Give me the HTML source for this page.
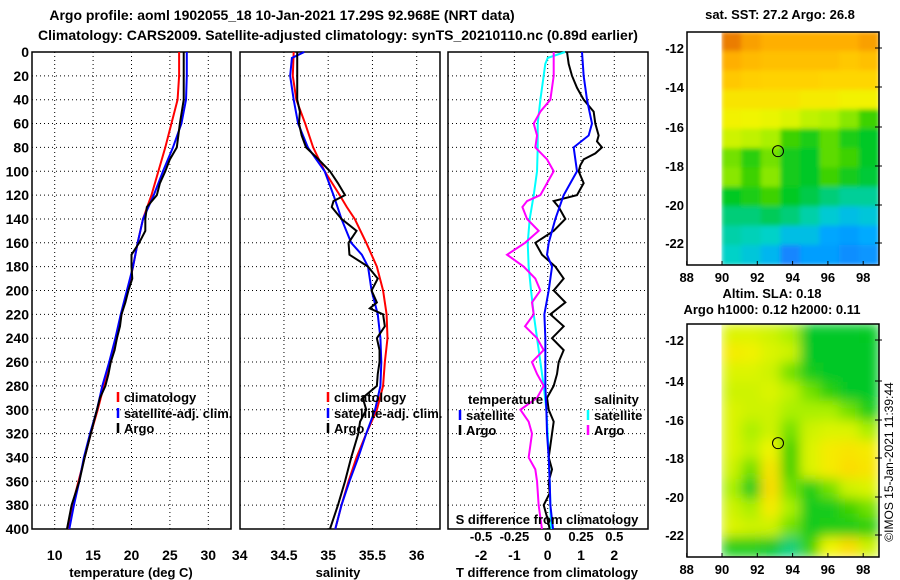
<!DOCTYPE html>
<html><head><meta charset="utf-8"><style>
body{margin:0;background:#fff;}
svg{display:block;font-family:"Liberation Sans",sans-serif;font-weight:bold;}
</style></head><body>
<svg id="fig" width="900" height="580" viewBox="0 0 900 580" xmlns="http://www.w3.org/2000/svg">
<text x="282" y="20" font-size="14" text-anchor="middle">Argo profile: aoml 1902055_18 10-Jan-2021 17.29S 92.968E (NRT data)</text>
<text x="338" y="40" font-size="14" text-anchor="middle">Climatology: CARS2009. Satellite-adjusted climatology: synTS_20210110.nc (0.89d earlier)</text>
<g id="g"></g>
</svg>
<script>
// ---- data ----
const depthT = [0,20,40,60,80,100,120,140,160,180,200,220,240,260,280,300,320,340,360,380,400];
const tempClim = [26.2,26.2,26.0,25.2,24.4,23.5,22.6,21.5,20.8,20.2,19.5,18.7,18.1,17.3,16.4,15.6,14.7,13.9,13.1,12.3,11.8];
const tempSat = [27.2,27.2,27.1,26.5,25.4,24.1,22.9,21.5,20.8,20.2,19.4,18.6,17.9,17.1,16.2,15.5,14.6,13.8,13.2,12.5,11.9];
const depthArgoT = [0,20,40,60,70,80,90,100,110,120,130,140,150,160,170,180,190,200,210,220,230,240,250,260,270,280,290,300,320,340,360,380,400];
const tempArgo = [26.8,26.8,26.8,26.3,26.1,25.9,25.0,24.4,23.7,23.3,22.0,21.8,21.8,21.0,20.0,20.0,20.1,19.6,19.2,18.7,18.5,18.1,17.8,17.3,17.0,16.6,15.9,15.5,14.7,13.9,13.2,12.2,11.6];
const depthS = [0,20,40,60,80,100,120,130,140,160,180,200,220,240,260,280,300,320,340,360,380,400];
const salClim = [34.61,34.60,34.64,34.74,34.83,34.96,35.13,35.21,35.30,35.43,35.55,35.62,35.66,35.67,35.64,35.62,35.55,35.43,35.32,35.23,35.15,35.08];
const depthSatS = [0,5,20,40,60,80,100,120,140,160,170,180,200,220,240,260,280,300,320,340,360,380,400];
const salSat = [34.73,34.59,34.57,34.61,34.66,34.77,34.96,35.06,35.15,35.26,35.38,35.45,35.49,35.56,35.59,35.60,35.59,35.53,35.43,35.34,35.24,35.15,35.08];
const depthArgoS = [0,20,40,50,60,70,80,90,100,110,120,125,130,140,150,160,170,180,190,200,210,215,220,230,240,250,260,270,280,290,300,310,320,340,360,380,400];
const salArgo = [34.65,34.65,34.65,34.68,34.67,34.70,34.75,34.89,35.02,35.11,35.19,35.06,35.04,35.15,35.32,35.23,35.24,35.45,35.56,35.49,35.55,35.47,35.62,35.64,35.55,35.58,35.58,35.56,35.55,35.39,35.43,35.36,35.34,35.26,35.19,35.11,35.02];
const depthDT = [0,20,40,60,70,80,100,120,140,160,170,180,200,220,240,260,280,300,320,340,360,380,400];
const dTsat = [1.03,1.08,1.18,1.33,1.23,0.78,0.88,0.48,0.23,0.03,-0.02,0.13,0.03,-0.10,-0.07,-0.07,-0.07,-0.04,-0.02,0.03,0.06,0.08,0.16];
const depthDTA = [0,10,20,30,40,50,60,70,75,80,85,90,95,100,110,120,125,130,140,150,160,170,180,190,200,210,220,230,240,250,260,270,280,290,300,310,320,340,350,360,370,380,390,400];
const dTargo = [0.58,0.63,0.73,0.88,1.08,1.38,1.43,1.53,1.48,1.63,1.43,1.08,0.98,0.93,1.08,0.88,0.18,0.33,0.53,0.18,-0.37,-0.17,0.23,0.48,0.18,0.53,0.08,0.48,0.13,0.48,0.33,0.28,0.18,-0.02,0.03,0.18,0.13,0.03,0.13,0.03,0.06,-0.12,-0.02,0.06];
const depthDS = [0,5,10,40,60,80,100,120,140,160,180,200,220,240,260,280,300,320,340,360,380,400];
const dSsat = [0.13,0,-0.018,-0.055,-0.075,-0.075,-0.08,-0.105,-0.135,-0.15,-0.143,-0.125,-0.105,-0.08,-0.055,-0.03,-0.01,0,0.008,0.015,0.02,0.025];
const depthDSA = [0,20,40,50,60,70,80,90,100,110,120,125,130,140,150,160,170,180,190,200,210,220,230,240,250,260,270,280,290,300,310,320,340,350,360,380,400];
const dSargo = [0.045,0.045,0.02,-0.055,-0.105,-0.08,-0.093,-0.005,0.045,-0.005,-0.055,-0.155,-0.19,-0.155,-0.068,-0.17,-0.305,-0.18,-0.093,-0.055,-0.118,-0.105,-0.17,-0.08,-0.03,-0.118,-0.08,-0.03,-0.08,-0.205,-0.143,-0.118,-0.143,-0.093,-0.08,-0.068,-0.043];
const depthTicks = [0,20,40,60,80,100,120,140,160,180,200,220,240,260,280,300,320,340,360,380,400];
const tTicks = [10,15,20,25,30];
const sTicks = [34,34.5,35,35.5,36];
const sTickLabels = ['34','34.5','35','35.5','36'];
const dTTicks = [-2,-1,0,1,2];
const dSTicks = [-0.5,-0.25,0,0.25,0.5];
const sstGrid = [
[0.95,0.88,0.85,0.85,0.85,0.85,0.85,0.88],
[0.85,0.82,0.8,0.8,0.8,0.8,0.78,0.8],
[0.78,0.76,0.75,0.75,0.75,0.74,0.74,0.74],
[0.7,0.7,0.7,0.7,0.68,0.68,0.66,0.66],
[0.66,0.65,0.64,0.62,0.58,0.56,0.52,0.45],
[0.6,0.58,0.55,0.45,0.4,0.48,0.4,0.35],
[0.5,0.42,0.5,0.38,0.35,0.48,0.45,0.35],
[0.52,0.45,0.52,0.38,0.35,0.45,0.38,0.34],
[0.36,0.4,0.45,0.36,0.33,0.3,0.28,0.28],
[0.3,0.3,0.32,0.3,0.27,0.23,0.2,0.22],
[0.27,0.26,0.25,0.2,0.2,0.14,0.12,0.15],
[0.25,0.22,0.18,0.06,0.12,0.12,0.08,0.1]];
const slaGrid = [
[0.62,0.62,0.6,0.55,0.35,0.35,0.35,0.36],
[0.68,0.66,0.62,0.6,0.35,0.35,0.35,0.35],
[0.62,0.62,0.6,0.5,0.38,0.35,0.35,0.35],
[0.6,0.6,0.62,0.58,0.5,0.42,0.35,0.35],
[0.62,0.6,0.6,0.55,0.55,0.55,0.5,0.4],
[0.62,0.55,0.6,0.5,0.6,0.62,0.62,0.55],
[0.62,0.58,0.65,0.45,0.62,0.68,0.7,0.68],
[0.6,0.5,0.7,0.45,0.62,0.68,0.72,0.7],
[0.55,0.38,0.72,0.5,0.4,0.5,0.6,0.62],
[0.6,0.55,0.68,0.55,0.38,0.38,0.45,0.5],
[0.62,0.6,0.6,0.5,0.38,0.4,0.4,0.42],
[0.4,0.4,0.35,0.3,0.45,0.65,0.72,0.6]];
const lonTicks = [88,90,92,94,96,98];
const latTicks = [-12,-14,-16,-18,-20,-22];

// ---- helpers ----
const NS='http://www.w3.org/2000/svg';
const G=document.getElementById('g');
function mk(tag,attrs,parent){const e=document.createElementNS(NS,tag);for(const k in attrs)e.setAttribute(k,attrs[k]);(parent||G).appendChild(e);return e;}
const Y0=52,Y1=529;
const yD=d=>Y0+d*(Y1-Y0)/400;
const xT=t=>54.7+(t-10)*7.68;
const xS=s=>239.7+(s-34)*88.5;
const xDT=t=>547.7+t*33.3;
const xDS=s=>547.7+s*133.2;

function panel(name,x0,x1,xt,ticks,labels){
  const g=mk('g',{});
  
  
  depthTicks.forEach(d=>{const l=mk('line',{x1:x0,x2:x1,y1:yD(d),y2:yD(d),stroke:'#000','stroke-width':1,'stroke-dasharray':'1,3'},g);});
  ticks.forEach((t,i)=>{const x=xt(t);if(x>x0+1&&x<x1-1){const l=mk('line',{x1:x,x2:x,y1:Y0,y2:Y1,stroke:'#000','stroke-width':1,'stroke-dasharray':'1,3'},g);}
    if(labels){const tx=mk('text',{x:x,y:560,'font-size':14,'text-anchor':'middle'},g);tx.textContent=labels[i];}});
  const r=mk('rect',{x:x0,y:Y0,width:x1-x0,height:Y1-Y0,fill:'none',stroke:'#000','stroke-width':1.5},g);
  
}
function line(xs,ds,xf,color,name){
  const p=mk('polyline',{points:xs.map((v,i)=>xf(v)+','+yD(ds[i])).join(' '),fill:'none',stroke:color,'stroke-width':2});
  
}
function txt(x,y,s,name,opt){const t=mk('text',Object.assign({x:x,y:y,'font-size':13},opt||{}));t.textContent=s;return t;}
function legMark(x,y,c){const l=mk('line',{x1:x,x2:x,y1:y-10,y2:y,stroke:c,'stroke-width':2.5});}

panel('temperature-panel',32,231,xT,tTicks,tTicks.map(String));
panel('salinity-panel',240,440,xS,sTicks,sTickLabels);
panel('difference-panel',448,648,xDT,dTTicks,dTTicks.map(String));
depthTicks.forEach(d=>txt(29,yD(d)+5,String(d),'y-tick-label',{'text-anchor':'end','font-size':14}));

line(tempClim,depthT,xT,'#f00','temp-climatology-line');
line(tempSat,depthT,xT,'#00f','temp-satellite-line');
line(tempArgo,depthArgoT,xT,'#000','temp-argo-line');
line(salClim,depthS,xS,'#f00','sal-climatology-line');
line(salSat,depthSatS,xS,'#00f','sal-satellite-line');
line(salArgo,depthArgoS,xS,'#000','sal-argo-line');
line(dSsat,depthDS,xDS,'#0ff','dsal-satellite-line');
line(dSargo,depthDSA,xDS,'#f0f','dsal-argo-line');
line(dTargo,depthDTA,xDT,'#000','dtemp-argo-line');
line(dTsat,depthDT,xDT,'#00f','dtemp-satellite-line');

txt(131,577,'temperature (deg C)','x-axis-title-temperature',{'text-anchor':'middle'});
txt(338,577,'salinity','x-axis-title-salinity',{'text-anchor':'middle'});
txt(547,577,'T difference from climatology','x-axis-title-t-diff',{'text-anchor':'middle'});
txt(547,524,'S difference from climatology','s-diff-title',{'text-anchor':'middle'});
dSTicks.forEach(s=>txt(xDS(s),541,String(s),'s-diff-tick-label',{'text-anchor':'middle'}));

[[118,'#f00','climatology',402],[118,'#00f','satellite-adj. clim.',418],[118,'#000','Argo',433]].forEach(a=>{legMark(a[0],a[3],a[1]);txt(a[0]+6,a[3],a[2],'legend-entry');});
[[328,'#f00','climatology',402],[328,'#00f','satellite-adj. clim.',418],[328,'#000','Argo',433]].forEach(a=>{legMark(a[0],a[3],a[1]);txt(a[0]+6,a[3],a[2],'legend-entry');});
txt(468,404,'temperature','legend-title-temperature');
txt(594,404,'salinity','legend-title-salinity');
[[460,'#00f','satellite',420],[460,'#000','Argo',435],[588,'#0ff','satellite',420],[588,'#f0f','Argo',435]].forEach(a=>{legMark(a[0],a[3],a[1]);txt(a[0]+6,a[3],a[2],'legend-entry');});

// ---- maps ----
const cstops=[[0,[30,110,255]],[0.15,[0,170,255]],[0.25,[0,210,200]],[0.35,[0,200,40]],[0.45,[60,210,0]],[0.55,[170,240,0]],[0.65,[240,245,0]],[0.75,[255,210,0]],[0.85,[255,175,0]],[1,[225,100,0]]];
function cmap(v){for(let i=1;i<cstops.length;i++){if(v<=cstops[i][0]){const a=cstops[i-1],b=cstops[i],f=(v-a[0])/(b[0]-a[0]);return 'rgb('+a[1].map((c,k)=>Math.round(c+(b[1][k]-c)*f)).join(',')+')';}}return 'rgb(225,100,0)';}
const xLon=lon=>722+(lon-90)*17.65;
const defs=mk('defs',{});
const fl=mk('filter',{id:'bl',x:'0',y:'0',width:'1',height:'1'},defs);mk('feGaussianBlur',{stdDeviation:6,edgeMode:'duplicate'},fl);
const fl2=mk('filter',{id:'bl2',x:'0',y:'0',width:'1',height:'1'},defs);mk('feGaussianBlur',{stdDeviation:2.5,edgeMode:'duplicate'},fl2);
function map(name,y0,y1,grid,latY,blur){
  const g=mk('g',{});
  const x0=722,x1=879,rows=grid.length,cols=grid[0].length,cw=(x1-x0)/cols,ch=(y1-y0)/rows;
  const cg=mk('g',{filter:blur?'url(#bl)':'url(#bl2)'},g);
  grid.forEach((row,r)=>row.forEach((v,c)=>{const re=mk('rect',{x:x0+c*cw-0.5,y:y0+r*ch-0.5,width:cw+1,height:ch+1,fill:cmap(v)},cg);}));
  const f=mk('rect',{x:687,y:y0,width:192,height:y1-y0,fill:'none',stroke:'#000','stroke-width':1.5},g);
  lonTicks.forEach(l=>{const t=txt(xLon(l),y1+17,String(l),'lon-tick-label',{'text-anchor':'middle'});g.appendChild(t);mk('line',{x1:xLon(l),x2:xLon(l),y1:y1,y2:y1-4,stroke:'#000'},g);});
  latTicks.forEach((l,i)=>{const t=txt(684,latY[i]+5,String(l),'lat-tick-label',{'text-anchor':'end'});g.appendChild(t);mk('line',{x1:875,x2:882,y1:latY[i],y2:latY[i],stroke:'#000'},g);});
  const cc=mk('circle',{cx:778,cy:latY[0]+(17.29-12)/2*(latY[5]-latY[0])/5,r:5.5,fill:'none',stroke:'#000','stroke-width':1},g);
  
}
map('sst-map',32,265,sstGrid,[48,87,127,166,205,243],false);
map('sla-map',324,557,slaGrid,[340,381,420,458,497,535],true);
txt(780,19,'sat. SST: 27.2 Argo: 26.8','sst-map-title',{'text-anchor':'middle'});
txt(772,298,'Altim. SLA: 0.18','sla-map-title',{'text-anchor':'middle'});
txt(772,314,'Argo h1000: 0.12 h2000: 0.11','sla-map-subtitle',{'text-anchor':'middle'});
txt(0,0,'©IMOS 15-Jan-2021 11:39:44','copyright-stamp',{'font-weight':'normal','font-size':12,'text-anchor':'middle',transform:'translate(893,462) rotate(-90)'});
</script>
</body></html>
